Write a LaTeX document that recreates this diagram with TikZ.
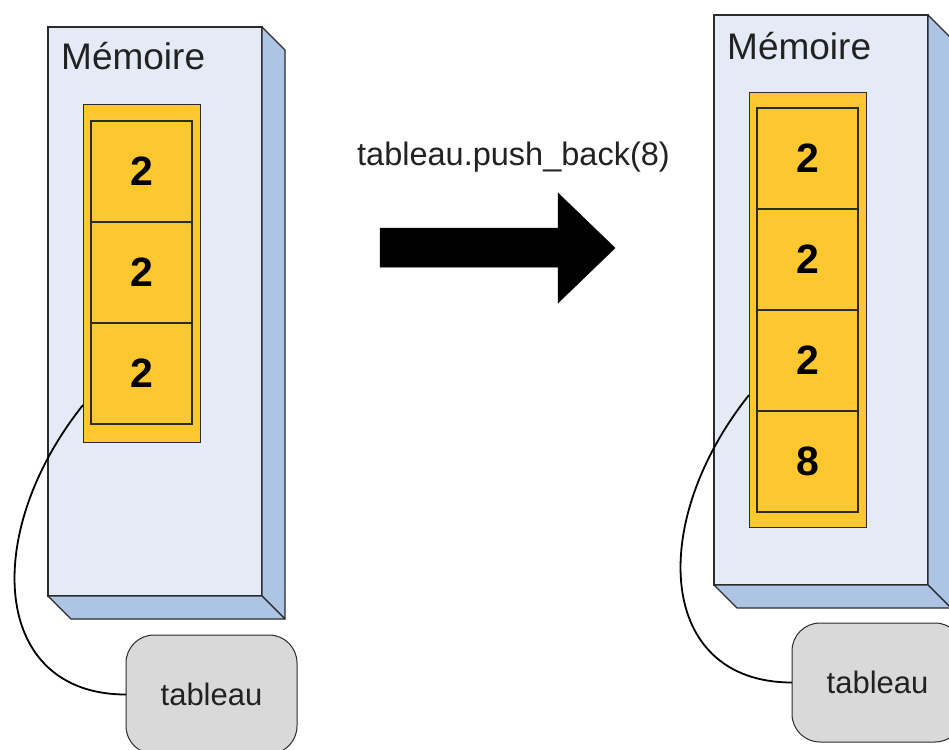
\documentclass[tikz,border=0pt]{standalone}
\usepackage{fontspec}
\setmainfont{Liberation Sans}
\usetikzlibrary{calc}
\definecolor{memfrontc}{HTML}{E4EBF6}
\definecolor{memsidec}{HTML}{AEC4E4}
\definecolor{arrfillc}{HTML}{FDC82F}
\definecolor{tabfillc}{HTML}{D9D9D9}
\definecolor{edgec}{HTML}{2B2B2B}
\definecolor{txtc}{HTML}{222222}
\begin{document}
\begin{tikzpicture}[x=1pt,y=-1pt,
  memface/.style={draw=edgec, line width=1.2pt, fill=memfrontc, minimum width=214pt, minimum height=569pt, anchor=north west, inner sep=0pt, outer sep=0pt},
  memdepth/.style={draw=edgec, line width=1.2pt, fill=memsidec, line join=round},
  arrbox/.style={draw=edgec, line width=1pt, fill=arrfillc, minimum width=117pt, anchor=north west, inner sep=0pt, outer sep=0pt},
  cellbox/.style={draw=edgec, line width=1.4pt, fill=arrfillc, minimum width=101pt, minimum height=101pt, anchor=north west, inner sep=0pt, outer sep=0pt, text=black, font=\fontsize{41}{48}\selectfont\bfseries},
  tabbox/.style={draw=edgec, line width=1pt, fill=tabfillc, minimum width=171pt, minimum height=119pt, rounded corners=28pt, anchor=north west, inner sep=0pt, outer sep=0pt, text=txtc, font=\fontsize{31}{37}\selectfont},
  memlabel/.style={anchor=base west, inner sep=0pt, text=txtc, font=\fontsize{37}{44}\selectfont},
  conn/.style={draw=black, line width=1.8pt},
  bigarrow/.style={fill=black, draw=black, line width=0.5pt}
]
\useasboundingbox (0,0) rectangle (949,749);
\fill[white] (0,0) rectangle (949,749);
\clip (0,0) rectangle (949,749);

% ---------- left memory ----------
\node[memface] (mL) at (48,27) {};
\path[memdepth] (mL.north east) -- ($(mL.north east)+(23,23)$) -- ($(mL.south east)+(23,23)$) -- (mL.south east) -- cycle;
\path[memdepth] (mL.south west) -- (mL.south east) -- ($(mL.south east)+(23,23)$) -- ($(mL.south west)+(23,23)$) -- cycle;
\node[memlabel] (tmL) at (61,70) {Mémoire};
\node[arrbox, minimum height=337pt] (aL) at (83,105) {};
\node[cellbox] (l1) at (91,121) {2};
\node[cellbox] (l2) at (l1.south west) {2};
\node[cellbox] (l3) at (l2.south west) {2};
\node[tabbox] (tL) at (126,635) {tableau};
\draw[conn] ([yshift=37pt]aL.south west) .. controls +(-102,128) and +(-135,0) .. (tL.west);

% ---------- arrow and call ----------
\node[anchor=base west, inner sep=0pt, text=txtc, font=\fontsize{32.5}{39}\selectfont] (cmd) at (357,165) {tableau.push\_back(8)};
\path[bigarrow] (380,228) -- (558,228) -- (558,193) -- (615,248) -- (558,303) -- (558,267) -- (380,267) -- cycle;

% ---------- right memory ----------
\node[memface, minimum height=570pt] (mR) at (714,15) {};
\path[memdepth] (mR.north east) -- ($(mR.north east)+(23,23)$) -- ($(mR.south east)+(23,23)$) -- (mR.south east) -- cycle;
\path[memdepth] (mR.south west) -- (mR.south east) -- ($(mR.south east)+(23,23)$) -- ($(mR.south west)+(23,23)$) -- cycle;
\node[memlabel] (tmR) at (727,60) {Mémoire};
\node[arrbox, minimum height=434pt] (aR) at (749,93) {};
\node[cellbox] (r1) at (757,108) {2};
\node[cellbox] (r2) at (r1.south west) {2};
\node[cellbox] (r3) at (r2.south west) {2};
\node[cellbox] (r4) at (r3.south west) {8};
\node[tabbox] (tR) at (792,623) {tableau};
\draw[conn] ([yshift=132pt]aR.south west) .. controls +(-102,128) and +(-135,0) .. (tR.west);
\end{tikzpicture}
\end{document}
